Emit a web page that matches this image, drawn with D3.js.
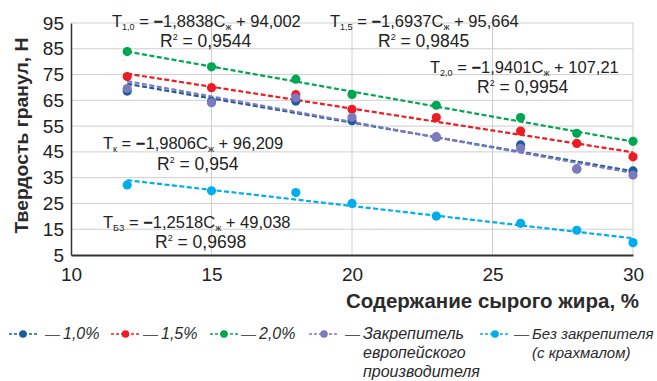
<!DOCTYPE html>
<html>
<head>
<meta charset="utf-8">
<script src="https://cdn.jsdelivr.net/npm/d3@7"></script>
<style>
  html, body { margin: 0; padding: 0; background: #fff; }
  #chart { width: 657px; height: 381px; }
  text { font-family: "Liberation Sans", Arial, sans-serif; }
</style>
</head>
<body>
<div id="chart"></div>
<script>
document.addEventListener('DOMContentLoaded', () => {
  // fat content, %
  const fat = [12, 15, 18, 20, 23, 26, 28, 30];

  // hardness, N
  const t10 = [68.6, 64.5, 64.7, 57.1, 50.7, 47.7, 38.4, 37.6];
  const t15 = [74.2, 69.9, 67.2, 61.5, 58.3, 53.1, 48.3, 43.1];
  const t20 = [83.9, 78.0, 73.2, 67.3, 63.1, 58.3, 52.2, 49.1];
  const tK = [69.6, 64.1, 66.0, 58.4, 50.9, 46.4, 38.4, 36.0];
  const tBZ = [32.2, 29.9, 29.2, 25.0, 20.1, 17.3, 14.6, 9.8];

  // trend equations
  const slopes = [-1.8838, -1.6937, -1.9401, -1.9806, -1.2518];
  const intercepts = [94.002, 95.664, 107.21, 96.209, 49.038];
  const r2 = ['0,9544', '0,9845', '0,9954', '0,954', '0,9698'];
  const eqSub = ['1,0', '1,5', '2,0', 'к', 'БЗ'];
  const eqSlope = ['1,8838', '1,6937', '1,9401', '1,9806', '1,2518'];
  const eqIntercept = ['94,002', '95,664', '107,21', '96,209', '49,038'];

  const xTicks = [10, 15, 20, 25, 30];
  const yTicks = [5, 15, 25, 35, 45, 55, 65, 75, 85, 95];

  const legendLabels = [
    ['1,0%'],
    ['1,5%'],
    ['2,0%'],
    ['Закрепитель', 'европейского', 'производителя'],
    ['Без закрепителя', '(с крахмалом)']
  ];

  const colors = ['#1b5a9e', '#ed1c24', '#00a651', '#7d7bbd', '#00aeef'];
  const series = [t10, t15, t20, tK, tBZ];

  const svg = d3.select('#chart')
    .append('svg')
    .attr('width', 657)
    .attr('height', 381);

  const x = d3.scaleLinear().domain([10, 30]).range([71, 633]);
  const y = d3.scaleLinear().domain([5, 95]).range([255, 23]);

  // grid
  svg.append('g')
    .selectAll('line')
    .data(yTicks.filter(d => d > 5))
    .enter()
    .append('line')
    .attr('x1', x(10))
    .attr('x2', x(30))
    .attr('y1', d => y(d))
    .attr('y2', d => y(d))
    .attr('stroke', '#cfcfcf')
    .attr('stroke-width', 1);

  svg.append('g')
    .selectAll('line')
    .data(xTicks.filter(d => d > 10))
    .enter()
    .append('line')
    .attr('x1', d => x(d))
    .attr('x2', d => x(d))
    .attr('y1', y(95))
    .attr('y2', y(5))
    .attr('stroke', '#cfcfcf')
    .attr('stroke-width', 1);

  // axes
  const yAxis = svg.append('g')
    .attr('transform', `translate(${x(10)},0)`)
    .call(d3.axisLeft(y).tickValues(yTicks).tickSize(0).tickPadding(7));
  yAxis.select('.domain').attr('stroke', '#333').attr('stroke-width', 1.5);
  yAxis.selectAll('text')
    .attr('font-size', 19)
    .attr('fill', '#222')
    .style('font-family', '"Liberation Sans", Arial, sans-serif');

  const xAxis = svg.append('g')
    .attr('transform', `translate(0,${y(5)})`)
    .call(d3.axisBottom(x).tickValues(xTicks).tickSize(0).tickPadding(13));
  xAxis.select('.domain').attr('stroke', '#333').attr('stroke-width', 2);
  xAxis.selectAll('text')
    .attr('font-size', 19)
    .attr('fill', '#222')
    .style('font-family', '"Liberation Sans", Arial, sans-serif');

  // axis titles
  svg.append('text')
    .attr('transform', `translate(28,${(233 + 38) / 2}) rotate(-90)`)
    .attr('text-anchor', 'middle')
    .attr('font-size', 19)
    .attr('font-weight', 'bold')
    .attr('fill', '#2b2b2b')
    .attr('textLength', 196)
    .attr('lengthAdjust', 'spacingAndGlyphs')
    .text('Твердость гранул, Н');

  svg.append('text')
    .attr('x', 639)
    .attr('y', 308)
    .attr('text-anchor', 'end')
    .attr('font-size', 20.5)
    .attr('font-weight', 'bold')
    .attr('fill', '#2b2b2b')
    .text('Содержание сырого жира, %');

  // trend lines
  svg.append('g')
    .selectAll('line')
    .data(slopes.map((s, i) => ({ s, b: intercepts[i], c: colors[i] })))
    .enter()
    .append('line')
    .attr('x1', x(12))
    .attr('x2', x(30))
    .attr('y1', d => y(d.s * 12 + d.b))
    .attr('y2', d => y(d.s * 30 + d.b))
    .attr('stroke', d => d.c)
    .attr('stroke-width', 2.2)
    .attr('stroke-dasharray', '5,2.5');

  // points
  series.forEach((vals, i) => {
    svg.append('g')
      .selectAll('circle')
      .data(vals)
      .enter()
      .append('circle')
      .attr('cx', (d, j) => x(fat[j]))
      .attr('cy', d => y(d))
      .attr('r', 4.6)
      .attr('fill', colors[i]);
  });

  // equations
  const eqPos = [
    { x: 112, y: 27, rx: 160, ry: 47 },
    { x: 330, y: 27, rx: 378, ry: 47 },
    { x: 430, y: 73, rx: 477, ry: 93 },
    { x: 103, y: 149, rx: 157, ry: 170 },
    { x: 103, y: 228, rx: 155, ry: 248 }
  ];
  eqPos.forEach((p, i) => {
    const t = svg.append('text')
      .attr('x', p.x)
      .attr('y', p.y)
      .attr('font-size', 16.5)
      .attr('fill', '#222');
    t.append('tspan').text('T');
    t.append('tspan').attr('font-size', 9).attr('dy', 3).text(eqSub[i]);
    t.append('tspan').attr('dy', -3).text(' = ');
    t.append('tspan').attr('font-weight', 'bold').text('−');
    t.append('tspan').text(eqSlope[i] + 'C');
    t.append('tspan').attr('font-size', 9).attr('dy', 3).text('ж');
    t.append('tspan').attr('dy', -3).text(' + ' + eqIntercept[i]);

    const r = svg.append('text')
      .attr('x', p.rx)
      .attr('y', p.ry)
      .attr('font-size', 17.5)
      .attr('fill', '#222');
    r.append('tspan').text('R');
    r.append('tspan').attr('font-size', 9).attr('dy', -7).text('2');
    r.append('tspan').attr('dy', 7).text(' = ' + r2[i]);
  });

  // legend
  const legendPos = [
    { x0: 9, x1: 37, tx: 45 },
    { x0: 111, x1: 140, tx: 143 },
    { x0: 210, x1: 238, tx: 241 },
    { x0: 309, x1: 339, tx: 345 },
    { x0: 480, x1: 510, tx: 514 }
  ];
  const ly = 334;
  legendPos.forEach((p, i) => {
    const g = svg.append('g');
    g.append('line')
      .attr('x1', p.x0)
      .attr('x2', p.x1)
      .attr('y1', ly)
      .attr('y2', ly)
      .attr('stroke', colors[i])
      .attr('stroke-width', 1.6)
      .attr('stroke-dasharray', '3,2');
    g.append('circle')
      .attr('cx', (p.x0 + p.x1) / 2)
      .attr('cy', ly)
      .attr('r', 3.8)
      .attr('fill', colors[i]);
    g.append('text')
      .attr('x', p.tx)
      .attr('y', ly + 5)
      .attr('font-size', 15)
      .attr('fill', '#555')
      .text('—');
    legendLabels[i].forEach((s, k) => {
      g.append('text')
        .attr('x', p.tx + 18)
        .attr('y', ly + 5 + k * 19)
        .attr('font-size', i === 4 ? 15 : 16)
        .attr('font-style', 'italic')
        .attr('fill', '#2b2b2b')
        .text(s);
    });
  });
});
</script>
</body>
</html>
